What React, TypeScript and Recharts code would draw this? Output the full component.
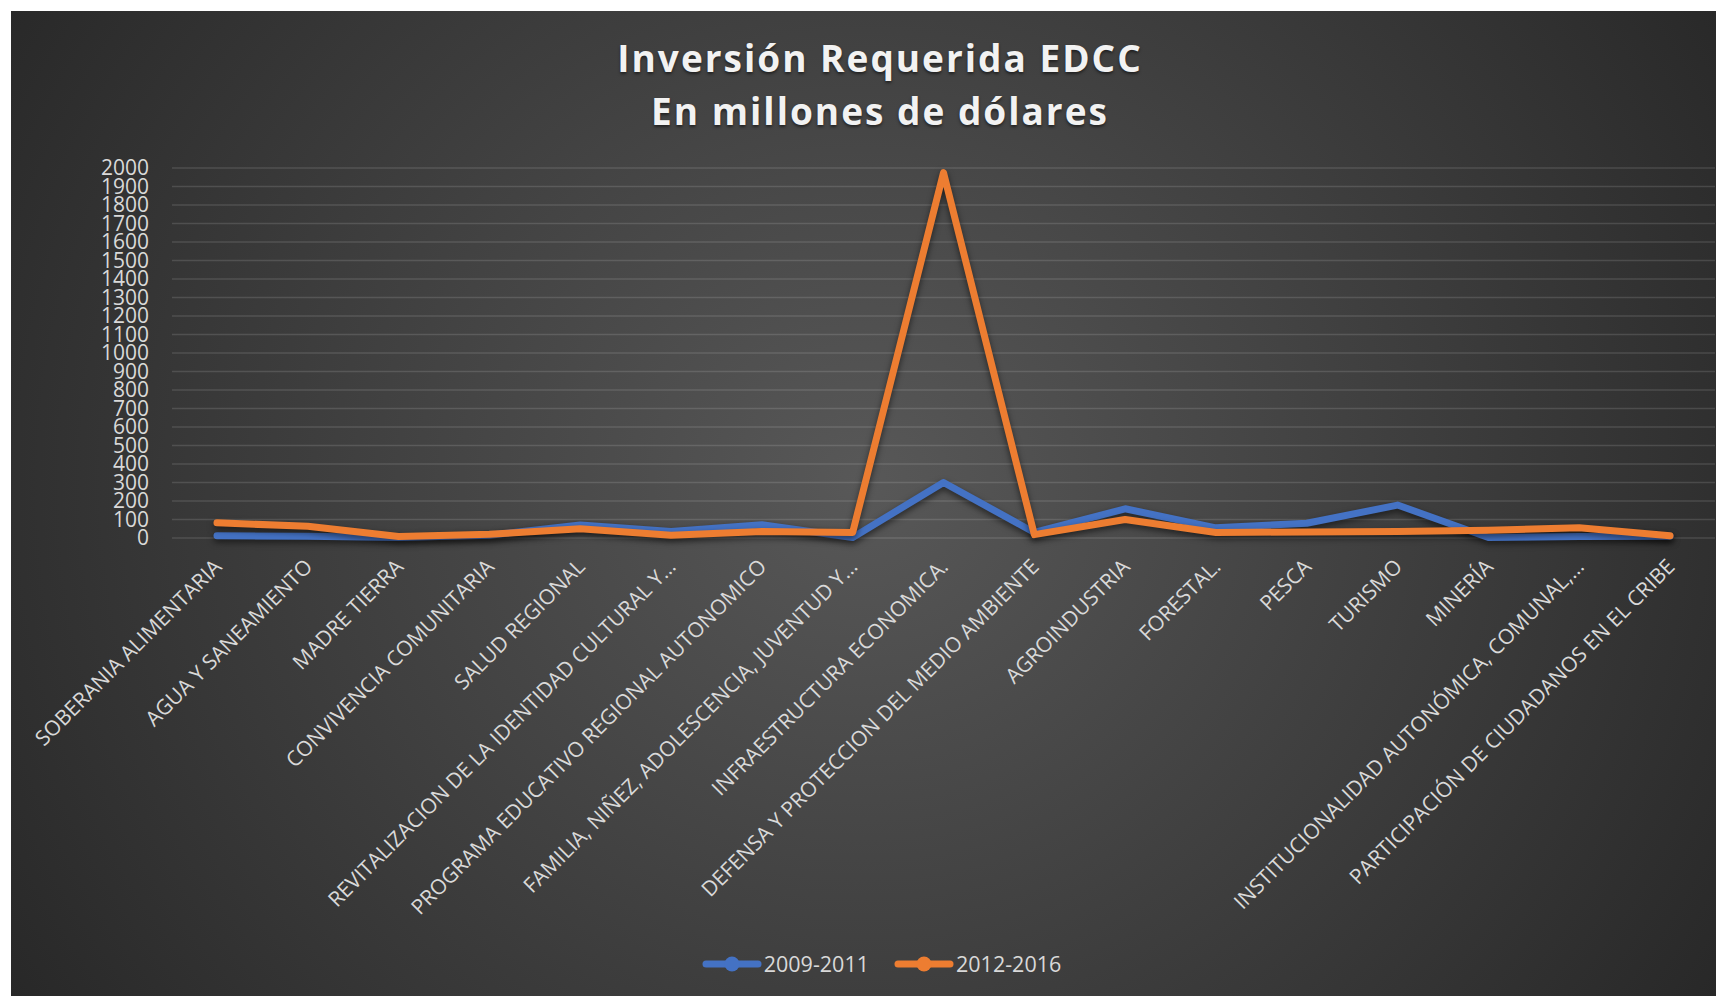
import { LineChart, Line, XAxis, YAxis, CartesianGrid, Legend } from 'recharts';

const CATEGORIES = [
  'SOBERANIA ALIMENTARIA',
  'AGUA Y SANEAMIENTO',
  'MADRE TIERRA',
  'CONVIVENCIA COMUNITARIA',
  'SALUD REGIONAL',
  'REVITALIZACION DE LA IDENTIDAD CULTURAL Y…',
  'PROGRAMA EDUCATIVO REGIONAL AUTONOMICO',
  'FAMILIA, NIÑEZ, ADOLESCENCIA, JUVENTUD Y…',
  'INFRAESTRUCTURA ECONOMICA.',
  'DEFENSA Y PROTECCION DEL MEDIO AMBIENTE',
  'AGROINDUSTRIA',
  'FORESTAL.',
  'PESCA',
  'TURISMO',
  'MINERÍA',
  'INSTITUCIONALIDAD AUTONÓMICA, COMUNAL,…',
  'PARTICIPACIÓN DE CIUDADANOS EN EL CRIBE',
];

const SERIES_2009_2011 = [12, 10, 3, 15, 70, 35, 72, 3, 300, 30, 158, 55, 80, 178, 3, 8, 10];
const SERIES_2012_2016 = [82, 63, 8, 20, 50, 15, 35, 30, 1975, 18, 100, 30, 33, 35, 42, 55, 12];

const Y_TICKS = [0, 100, 200, 300, 400, 500, 600, 700, 800, 900, 1000, 1100, 1200, 1300, 1400, 1500, 1600, 1700, 1800, 1900, 2000];

const BLUE = '#4472C4';
const ORANGE = '#ED7D31';
const TEXT = '#d9d9d9';
const FONT = '"Open Sans", sans-serif';

const data = CATEGORIES.map((name, i) => ({
  name,
  a: SERIES_2009_2011[i],
  b: SERIES_2012_2016[i],
}));

const CategoryTick = ({ x, y, payload }: any) => (
  <g transform={`translate(${x + 6},${y + 30})`}>
    <text textAnchor="end" transform="rotate(-45)" fill={TEXT} fontSize={21} fontFamily={FONT}>
      {payload.value}
    </text>
  </g>
);

const LEGEND_ITEMS = [
  { label: '2009-2011', color: BLUE },
  { label: '2012-2016', color: ORANGE },
];

const LegendBox = () => (
  <div style={{ display: 'flex', justifyContent: 'center', paddingLeft: 36, fontFamily: FONT, fontSize: 21.5, color: TEXT }}>
    {LEGEND_ITEMS.map((item, i) => (
      <div key={item.label} style={{ display: 'flex', alignItems: 'center', marginLeft: i === 0 ? 0 : 25 }}>
        <svg width={60} height={20} style={{ marginRight: 2 }}>
          <line x1={4} y1={10} x2={56} y2={10} stroke={item.color} strokeWidth={7} strokeLinecap="round" />
          <circle cx={30} cy={10} r={7.5} fill={item.color} />
        </svg>
        <span>{item.label}</span>
      </div>
    ))}
  </div>
);

export default function App() {
  return (
    <div
      style={{
        position: 'absolute',
        left: 11,
        top: 11,
        width: 1705,
        height: 985,
        background: 'radial-gradient(ellipse 62% 100% at 50% 48%, #585858 0%, #262626 100%)',
      }}
    >
      <style>{`.recharts-line-curve { filter: drop-shadow(0 3px 3px rgba(0,0,0,0.55)); }`}</style>
      <div
        style={{
          position: 'absolute',
          top: 20,
          left: 0,
          width: 1705,
          paddingLeft: 33,
          boxSizing: 'border-box',
          textAlign: 'center',
          fontFamily: FONT,
          fontWeight: 700,
          fontSize: 37,
          lineHeight: '53px',
          letterSpacing: 2,
          color: '#f2f2f2',
          textShadow: '0 2px 3px rgba(0,0,0,0.5)',
        }}
      >
        <div>Inversión Requerida EDCC</div>
        <div>En millones de dólares</div>
      </div>
      <LineChart width={1705} height={985} data={data} margin={{ top: 157, right: 1, left: 0, bottom: 158 }}>
        <CartesianGrid horizontal vertical={false} stroke="rgba(255,255,255,0.13)" strokeWidth={1.5} />
        <XAxis
          dataKey="name"
          interval={0}
          height={300}
          padding={{ left: 45, right: 45 }}
          axisLine={false}
          tickLine={false}
          tickSize={0}
          tickMargin={0}
          tick={<CategoryTick />}
        />
        <YAxis
          width={161}
          domain={[0, 2000]}
          ticks={Y_TICKS}
          interval={0}
          axisLine={false}
          tickLine={false}
          tickSize={0}
          tickMargin={23}
          tick={{ fill: TEXT, fontSize: 21, fontFamily: FONT }}
        />
        <Legend
          verticalAlign="middle"
          align="center"
          layout="horizontal"
          wrapperStyle={{ top: 938, left: 0, width: 1705 }}
          content={<LegendBox />}
        />
        <Line
          type="linear"
          dataKey="a"
          name="2009-2011"
          stroke={BLUE}
          strokeWidth={7}
          strokeLinecap="round"
          strokeLinejoin="round"
          dot={false}
          activeDot={false}
          isAnimationActive={false}
        />
        <Line
          type="linear"
          dataKey="b"
          name="2012-2016"
          stroke={ORANGE}
          strokeWidth={7}
          strokeLinecap="round"
          strokeLinejoin="round"
          dot={false}
          activeDot={false}
          isAnimationActive={false}
        />
      </LineChart>
    </div>
  );
}
